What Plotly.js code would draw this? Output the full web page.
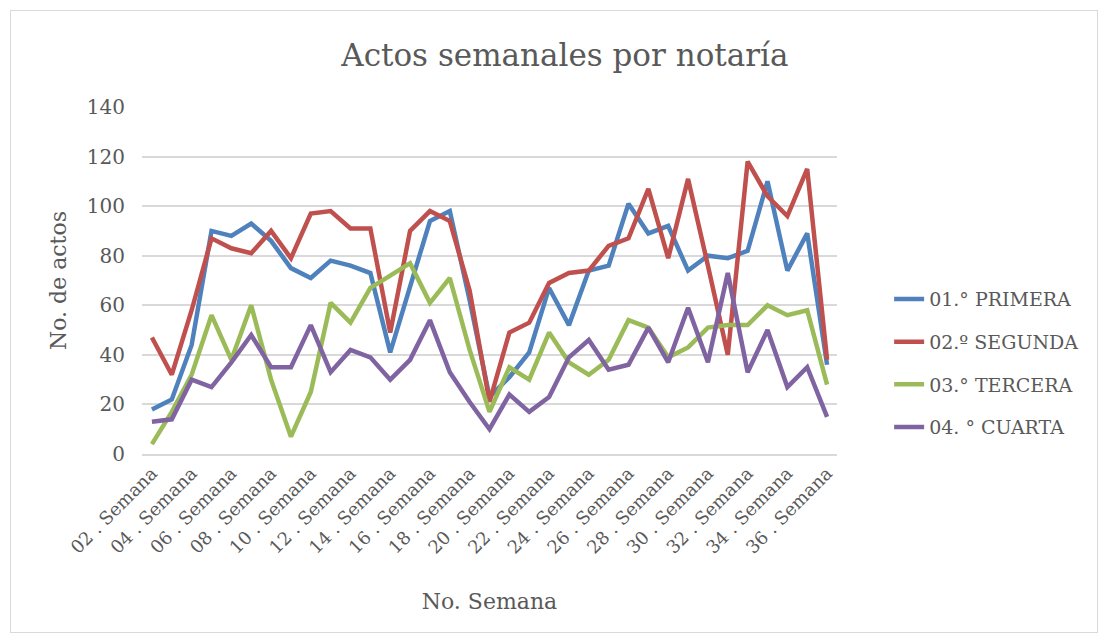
<!DOCTYPE html>
<html>
<head>
<meta charset="utf-8">
<script src="https://cdn.plot.ly/plotly-3.0.1.min.js"></script>
<style>
  html, body { margin: 0; padding: 0; background: #ffffff; }
  #frame { position: absolute; left: 10px; top: 10px; width: 1086px; height: 621px; border: 1px solid #d9d9d9; background: #fff; }
  #chart { width: 1086px; height: 621px; }
</style>
</head>
<body>
<div id="frame"><div id="chart"></div></div>
<script>
const weeks = ["02 . Semana","03 . Semana","04 . Semana","05 . Semana","06 . Semana","07 . Semana","08 . Semana",
  "09 . Semana","10 . Semana","11 . Semana","12 . Semana","13 . Semana","14 . Semana","15 . Semana","16 . Semana",
  "17 . Semana","18 . Semana","19 . Semana","20 . Semana","21 . Semana","22 . Semana","23 . Semana","24 . Semana",
  "25 . Semana","26 . Semana","27 . Semana","28 . Semana","29 . Semana","30 . Semana","31 . Semana","32 . Semana",
  "33 . Semana","34 . Semana","35 . Semana","36 . Semana"];
const tickLabels = ["02 . Semana","04 . Semana","06 . Semana","08 . Semana","10 . Semana","12 . Semana","14 . Semana",
  "16 . Semana","18 . Semana","20 . Semana","22 . Semana","24 . Semana","26 . Semana","28 . Semana","30 . Semana",
  "32 . Semana","34 . Semana","36 . Semana"];
const primera = [18,22,44,90,88,93,86,75,71,78,76,73,41,67,94,98,62,23,31,41,67,52,74,76,101,89,92,74,80,79,82,110,74,89,36];
const segunda = [47,32,58,87,83,81,90,79,97,98,91,91,49,90,98,94,66,21,49,53,69,73,74,84,87,107,79,111,76,40,118,104,96,115,38];
const tercera = [4,17,32,56,38,60,30,7,25,61,53,67,72,77,61,71,42,17,35,30,49,37,32,38,54,51,39,43,51,52,52,60,56,58,28];
const cuarta  = [13,14,30,27,37,48,35,35,52,33,42,39,30,38,54,33,21,10,24,17,23,39,46,34,36,51,37,59,37,73,33,50,27,35,15];
const seriesNames = ["01.° PRIMERA","02.º SEGUNDA","03.° TERCERA","04. ° CUARTA"];
const seriesColors = ["#4f81bd","#c0504d","#9bbb59","#8064a2"];
const seriesData = [primera, segunda, tercera, cuarta];

const FONT = "DejaVu Serif, Cambria, serif";
const traces = seriesData.map((vals, i) => ({
  type: "scatter", mode: "lines", x: weeks, y: vals, name: seriesNames[i],
  legendgroup: "g" + i,
  line: { color: seriesColors[i], width: 4.5 },
  hoverinfo: "x+y+name"
}));

const layout = {
  width: 1086, height: 621,
  paper_bgcolor: "#ffffff", plot_bgcolor: "#ffffff",
  margin: { l: 131, r: 260, t: 96, b: 178 },
  font: { family: FONT, color: "#595959" },
  title: { text: "Actos semanales por notaría", font: { family: FONT, size: 31, color: "#595959" },
           x: 0.51, xanchor: "center", y: 0.929, yanchor: "middle" },
  showlegend: true,
  legend: { x: 1.075, xanchor: "left", y: 0.262, yanchor: "middle", traceorder: "grouped", tracegroupgap: 15,
            font: { family: FONT, size: 19, color: "#595959" }, bgcolor: "rgba(0,0,0,0)" },
  xaxis: {
    type: "category", categoryorder: "array", categoryarray: weeks,
    range: [-0.5, weeks.length - 0.5],
    tickmode: "array", tickvals: tickLabels, ticktext: tickLabels,
    tickangle: -45, tickfont: { family: FONT, size: 18, color: "#595959" },
    showgrid: false, zeroline: false, showline: true, linecolor: "#d9d9d9", linewidth: 1.5,
    ticks: "", automargin: false,
    title: { text: "No. Semana", font: { family: FONT, size: 22, color: "#595959" }, standoff: 37 }
  },
  yaxis: {
    range: [0, 140], dtick: 20, tick0: 0,
    showgrid: true, gridcolor: "#d9d9d9", gridwidth: 1.5, zeroline: false, showline: false,
    ticks: "", ticklabelstandoff: 16,
    tickfont: { family: FONT, size: 20, color: "#595959" }, automargin: false,
    title: { text: "No. de actos", font: { family: FONT, size: 22, color: "#595959" }, standoff: 14 }
  }
};

Plotly.newPlot("chart", traces, layout, { displayModeBar: false, staticPlot: false });
</script>
</body>
</html>
